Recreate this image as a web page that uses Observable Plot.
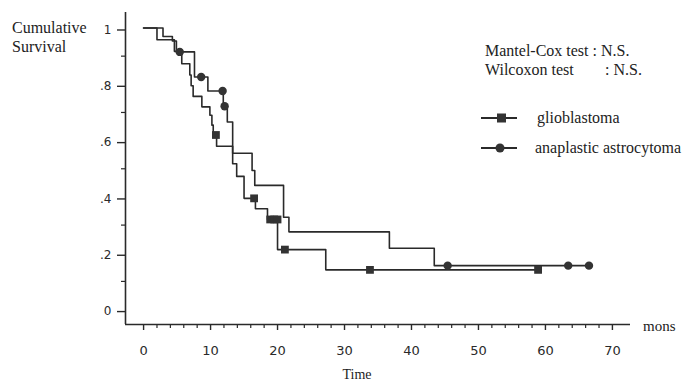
<!DOCTYPE html>
<html><head><meta charset="utf-8">
<script src="https://cdn.jsdelivr.net/npm/d3@7"></script>
<script src="https://cdn.jsdelivr.net/npm/@observablehq/plot@0.6"></script>
<style>body{margin:0;background:#fff}svg{display:block}</style>
</head><body><div id="chart"></div>
<script>
// Kaplan-Meier step data (time in months, cumulative survival)
const glioTime = [0, 2.0, 4.6, 5.7, 6.9, 7.1, 7.4, 8.7, 9.9, 10.2, 10.4, 10.9, 13.3, 13.9, 15.0, 16.7, 18.5, 20.0, 27.2, 58.9];
const glioSurv = [1, 0.958, 0.917, 0.873, 0.833, 0.795, 0.757, 0.72, 0.69, 0.655, 0.62, 0.58, 0.518, 0.473, 0.395, 0.358, 0.32, 0.213, 0.141, 0.141];
const glioCensorTime = [10.8, 16.5, 18.9, 19.5, 20.0, 21.1, 33.8, 58.9];
const glioCensorSurv = [0.62, 0.395, 0.32, 0.32, 0.32, 0.213, 0.141, 0.141];

const astroTime = [0, 2.9, 4.3, 4.9, 7.6, 9.6, 11.9, 12.5, 13.3, 16.2, 16.6, 20.9, 21.7, 36.7, 43.4, 66.5];
const astroSurv = [1, 0.97, 0.954, 0.915, 0.826, 0.776, 0.722, 0.666, 0.555, 0.494, 0.441, 0.328, 0.276, 0.218, 0.156, 0.156];
const astroCensorTime = [5.4, 8.6, 11.8, 12.1, 45.4, 63.4, 66.5];
const astroCensorSurv = [0.915, 0.826, 0.776, 0.722, 0.156, 0.156, 0.156];

const xTicks = [0, 10, 20, 30, 40, 50, 60, 70];
const xMinorTicks = d3.range(0, 72, 2).filter(d => d % 10 !== 0);
const yTicks = [0, 0.2, 0.4, 0.6, 0.8, 1];
const yTickLabels = ["0", ".2", ".4", ".6", ".8", "1"];
const yMinorTicks = [0.1, 0.3, 0.5, 0.7, 0.9];

const seriesNames = ["glioblastoma", "anaplastic astrocytoma"];
const testLines = ["Mantel-Cox test", "Wilcoxon test"];
const testResult = ": N.S.";

const xDomain = [-2.7, 72.7];
const yDomain = [-0.053, 1.055];

const glio = glioTime.map((t, i) => ({t, s: glioSurv[i]}));
const astro = astroTime.map((t, i) => ({t, s: astroSurv[i]}));
const glioC = glioCensorTime.map((t, i) => ({t, s: glioCensorSurv[i]}));
const astroC = astroCensorTime.map((t, i) => ({t, s: astroCensorSurv[i]}));

const ink = "#2a2a2a";

const plot = Plot.plot({
  width: 688,
  height: 383,
  marginLeft: 125,
  marginRight: 58,
  marginTop: 12,
  marginBottom: 59,
  style: {fontFamily: "DejaVu Sans", fontSize: "13px", color: ink, background: "#fff"},
  x: {domain: xDomain, axis: null},
  y: {domain: yDomain, axis: null},
  marks: [
    Plot.ruleX([xDomain[0]], {stroke: ink, strokeWidth: 1.6}),
    Plot.ruleY([yDomain[0]], {stroke: ink, strokeWidth: 1.6}),
    Plot.axisX({ticks: xTicks, tickSize: 6, tickPadding: 15, label: null, stroke: ink, strokeWidth: 1.4, fontSize: 13}),
    Plot.axisX({ticks: xMinorTicks, tickSize: 4, text: null, label: null, stroke: ink, strokeWidth: 1.2}),
    Plot.axisY({ticks: yTicks, tickSize: 8, tickPadding: 6, label: null, stroke: ink, strokeWidth: 1.4, fontSize: 12,
      tickFormat: d => yTickLabels[yTicks.findIndex(v => Math.abs(v - d) < 1e-9)], dy: 2}),
    Plot.axisY({ticks: yMinorTicks, tickSize: 4, text: null, label: null, stroke: ink, strokeWidth: 1.2}),
    Plot.line(glio, {x: "t", y: "s", curve: "step-after", stroke: ink, strokeWidth: 1.6}),
    Plot.line(astro, {x: "t", y: "s", curve: "step-after", stroke: ink, strokeWidth: 1.6}),
    Plot.dot(glioC, {x: "t", y: "s", symbol: "square", r: 4.4, fill: "#333", stroke: "none"}),
    Plot.dot(astroC, {x: "t", y: "s", symbol: "circle", r: 4.2, fill: "#333", stroke: "none"})
  ]
});

document.getElementById("chart").appendChild(plot);

// Annotations and legend (layout)
const svg = d3.select(plot);
const serif = "'Liberation Serif', 'DejaVu Serif', serif";
const g = svg.append("g").attr("font-family", serif).attr("fill", "#222").attr("font-size", 16).attr("text-anchor", "start");

g.append("text").attr("x", 12).attr("y", 33).text("Cumulative");
g.append("text").attr("x", 12).attr("y", 52).text("Survival");

g.append("text").attr("x", 485).attr("y", 56).text(testLines[0] + " " + testResult);
g.append("text").attr("x", 485).attr("y", 75).text(testLines[1]);
g.append("text").attr("x", 605).attr("y", 75).text(testResult);

// legend
const leg = [
  {y: 118, sym: "square", tx: 537},
  {y: 148, sym: "circle", tx: 535}
];
leg.forEach((l, i) => {
  g.append("line").attr("x1", 481).attr("x2", 517).attr("y1", l.y).attr("y2", l.y)
    .attr("stroke", ink).attr("stroke-width", 1.8);
  if (l.sym === "square") {
    g.append("rect").attr("x", 497).attr("y", l.y - 4.5).attr("width", 9).attr("height", 9).attr("fill", "#333");
  } else {
    g.append("circle").attr("cx", 500).attr("cy", l.y).attr("r", 4.5).attr("fill", "#333");
  }
  g.append("text").attr("x", l.tx).attr("y", l.y + 5).text(seriesNames[i]);
});

g.append("text").attr("x", 643).attr("y", 331).attr("font-size", 15).text("mons");
g.append("text").attr("x", 357).attr("y", 379).attr("font-size", 14).attr("text-anchor", "middle").text("Time");
</script>
</body></html>
